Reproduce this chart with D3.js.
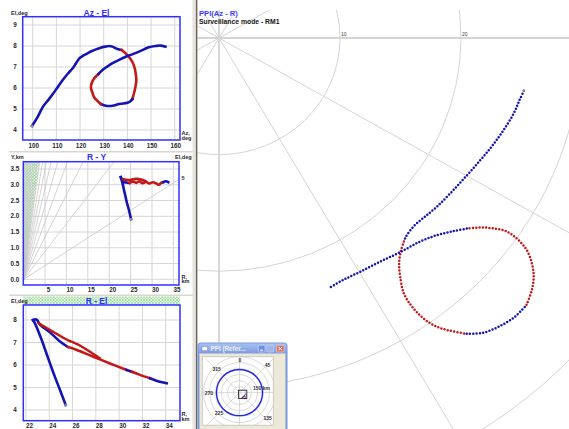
<!DOCTYPE html>
<html><head><meta charset="utf-8">
<script src="https://cdn.jsdelivr.net/npm/d3@7"></script>
<style>
html,body{margin:0;padding:0;background:#fff;}
svg{display:block;font-family:"Liberation Sans",Arial,sans-serif;}
</style></head><body>
<svg id="chart" width="569" height="429"></svg>
<script>
// ---------- Axis ticks ----------
const azTicks = [100, 110, 120, 130, 140, 150, 160];
const azElElTicks = [4, 5, 6, 7, 8, 9];
const ryRangeTicks = [5, 10, 15, 20, 25, 30, 35];
const ryHeightTicks = [0, 0.5, 1, 1.5, 2, 2.5, 3, 3.5];
const ryElevationFan = [5, 10, 15, 20, 25, 30, 35, 40, 45, 50, 55, 60, 65, 70, 75, 80, 85];
const relRangeTicks = [22, 24, 26, 28, 30, 32, 34];
const relElTicks = [4, 5, 6, 7, 8];
const ppiRingsKm = [10, 20, 30, 40, 50];
const ppiRingLabels = [10, 20];
const ppiSpokesDeg = [0, 30, 60, 90, 120, 150, 180, 210, 240, 270, 300, 330];
const insetRingsKm = [25, 50, 75, 100, 125, 150];
const insetSpokesDeg = [0, 45, 90, 135, 180, 225, 270, 315];
const insetBearingLabels = ["0", "45", "135", "225", "270", "315"];
const insetCoverageKm = 96;

// ---------- Track: Az - El  [azimuth deg, elevation deg] ----------
const azElClimb = [[99.7,4.19],[102,4.6],[104.3,5.1],[106.5,5.42],[108.5,5.71],[110.6,6.05],[112.7,6.38],[114.8,6.68],[116.9,6.94],[118.3,7.18],[119.7,7.41],[121.5,7.55],[123.2,7.65],[125,7.76],[126.7,7.84],[128.7,7.92],[130.6,7.97],[132.2,8.0],[133.7,7.97],[135.8,7.86],[137.6,7.81]];
const azElLoopFall = [[137.6,7.81],[140,7.57],[142.1,7.25],[143.1,6.95],[143.5,6.7],[143.8,6.38],[143.4,6.05],[142.8,5.75],[142.1,5.47]];
const azElLoopBottom = [[142.1,5.47],[141.2,5.36],[140,5.3],[138.2,5.26],[136.5,5.24],[134.3,5.17],[132.3,5.14],[130.5,5.17],[128.8,5.24]];
const azElLoopRise = [[128.8,5.24],[127.2,5.4],[126,5.55],[125.3,5.75],[124.6,6.03],[125,6.25],[126,6.46],[127.8,6.67]];
const azElExit = [[127.8,6.67],[129.5,6.86],[131.5,7.02],[133.7,7.18],[136.5,7.34],[139.3,7.49],[142,7.6],[144.9,7.73],[147,7.84],[149.1,7.94],[151.9,8.0],[154,8.02],[156.1,7.97]];

// ---------- Track: R - Y  [range km, height km] ----------
const ryClimb = [[25.1,1.91],[24.6,2.2],[24.1,2.45],[23.6,2.75],[23.1,3.05],[22.7,3.24]];
const ryLevelBlue = [[22.7,3.24],[22.9,3.19],[23.3,3.1],[24.0,3.07],[24.8,3.06]];
const ryLevelRed = [[24.8,3.06],[25.5,3.1],[26.3,3.06],[27.0,3.11],[27.8,3.05],[28.6,3.09],[29.4,3.04],[30.2,3.08],[31.0,3.04],[31.6,3.0],[32.2,3.07],[32.6,3.08]];
const ryLevelRedUpper = [[23.3,3.17],[24.5,3.15],[25.5,3.17],[26.5,3.19],[27.4,3.17],[28.4,3.12]];
const ryLevelTail = [[32.6,3.08],[33.2,3.11],[33.8,3.08]];

// ---------- Track: R - El  [range km, elevation deg] ----------
const relClimb = [[25.41,4.22],[24.92,4.89],[24.5,5.45],[24.06,6.07],[23.7,6.6],[23.35,7.11],[22.77,7.85],[22.6,8.0]];
const relTurn = [[22.6,8.0],[22.9,8.02],[23.2,7.8],[24.06,7.45],[24.92,7.04],[25.6,6.8]];
const relRedA = [[25.6,6.8],[26.36,6.67],[27.78,6.37],[29.22,6.07],[30.65,5.78]];
const relBlueA = [[30.65,5.78],[31.1,5.7]];
const relRedB = [[31.1,5.7],[31.79,5.56],[32.65,5.41]];
const relTail = [[32.65,5.41],[33.4,5.27],[34.09,5.19]];
const relRedUpper = [[23.1,7.85],[24.35,7.47],[25.5,7.13],[26.5,6.9],[27.4,6.62],[28.4,6.28]];

// ---------- Track: PPI  [azimuth deg, range km] ----------
const ppiApproach = [[100.2,25.6],[102.1,25.4],[104.9,25.2],[108.6,24.8],[112.3,24.4],[115.9,24.0],[120.3,23.6],[124.9,23.3],[128.8,23.1],[132.0,22.9],[135.2,22.8],[137.8,23.0],[138.8,23.2]];
const ppiLoopNear = [[138.8,23.2],[140.7,23.7],[142.4,24.4],[143.8,25.35],[145.1,26.7],[145.3,28.0],[144.9,29.4],[144.0,30.6],[142.8,31.5],[141.1,32.6]];
const ppiLoopBottom = [[141.1,32.6],[139.2,33.4],[136.8,33.9],[134.3,34.2],[132.0,34.2]];
const ppiLoopFar = [[132.0,34.2],[129.9,33.7],[128.2,33.1],[126.8,32.3],[125.6,31.3],[125.0,30.2],[124.9,29.0],[125.8,27.9],[127.0,27.0],[128.6,26.2]];
const ppiExit = [[128.6,26.2],[130.5,25.5],[133.2,24.7],[136.4,24.1],[140.8,23.7],[145.3,23.35],[149.8,23.2],[153.7,23.15],[157.2,23.3]];

// ---------- Styling ----------
const trackBlue = "#1414b4", trackRed = "#c41818", headGray = "#8a8a8a";
const frameBlue = "#2f2fff", gridGray = "#d6d6d6", labelInk = "#2a2a2a", titleBlue = "#2e2eff";

const svg = d3.select("#chart");
const defs = svg.append("defs");

// light green cross-hatch
const hatch = defs.append("pattern").attr("id", "hatch").attr("width", 3).attr("height", 3)
  .attr("patternUnits", "userSpaceOnUse");
hatch.append("rect").attr("width", 3).attr("height", 3).attr("fill", "#e8f9e8");
hatch.append("path").attr("d", "M0,0L3,3M3,0L0,3").attr("stroke", "#92dd92").attr("stroke-width", 0.7);

svg.append("rect").attr("width", 569).attr("height", 429).attr("fill", "#fff");

const smooth = d3.curveCatmullRom.alpha(0.5);

function drawPanel(p) {
  const g = svg.append("g");
  const { x, y, f } = p;
  defs.append("clipPath").attr("id", "clip-" + p.id).append("rect")
    .attr("x", f.x0).attr("y", f.y0).attr("width", f.x1 - f.x0).attr("height", f.y1 - f.y0);
  const inner = g.append("g").attr("clip-path", `url(#clip-${p.id})`);
  if (p.under) p.under(inner);
  inner.selectAll("line.gx").data(p.xTicks).join("line").attr("class", "gx")
    .attr("x1", d => x(d)).attr("x2", d => x(d)).attr("y1", f.y0).attr("y2", f.y1)
    .attr("stroke", gridGray).attr("stroke-width", 1);
  inner.selectAll("line.gy").data(p.yTicks).join("line").attr("class", "gy")
    .attr("y1", d => y(d)).attr("y2", d => y(d)).attr("x1", f.x0).attr("x2", f.x1)
    .attr("stroke", gridGray).attr("stroke-width", 1);
  if (p.over) p.over(inner);
  const line = d3.line().x(d => x(d[0])).y(d => y(d[1])).curve(smooth);
  p.runs.forEach(([pts, color, dash]) => {
    inner.append("path").datum(pts).attr("d", line).attr("fill", "none")
      .attr("stroke", color).attr("stroke-width", dash ? 2.4 : 2.6)
      .attr("stroke-linecap", "square").attr("stroke-linejoin", "round")
      .attr("stroke-dasharray", dash || null);
  });
  const head = p.runs[0][0][0];
  inner.append("rect").attr("x", x(head[0]) - 1.2).attr("y", y(head[1]) - 1.2)
    .attr("width", 2.4).attr("height", 2.4).attr("fill", headGray);
  g.append("rect").attr("x", f.x0).attr("y", f.y0).attr("width", f.x1 - f.x0).attr("height", f.y1 - f.y0)
    .attr("fill", "none").attr("stroke", frameBlue).attr("stroke-width", 1.5);
  g.selectAll("text.tx").data(p.xTicks).join("text").attr("class", "tx")
    .attr("x", d => x(d) + p.xLabelDx).attr("y", p.xLabelY).attr("text-anchor", "middle")
    .attr("font-size", 6.3).attr("font-weight", "bold").attr("fill", labelInk).text(d => d);
  g.selectAll("text.ty").data(p.yTicks).join("text").attr("class", "ty")
    .attr("x", 15).attr("y", d => y(d) + 2.2).attr("text-anchor", "middle")
    .attr("font-size", 6.3).attr("font-weight", "bold").attr("fill", labelInk).text(p.yFormat);
  g.append("text").attr("x", 96.5).attr("y", p.titleY).attr("text-anchor", "middle")
    .attr("font-size", 8.5).attr("font-weight", "bold").attr("fill", titleBlue).text(p.title);
  p.notes.forEach(([tx, ty, s, anchor]) => {
    g.append("text").attr("x", tx).attr("y", ty).attr("text-anchor", anchor || "start")
      .attr("font-size", 5.6).attr("font-weight", "bold").attr("fill", labelInk).text(s);
  });
}

// ---------- Az - El ----------
const azX = d3.scaleLinear().domain([100, 160]).range([32.7, 174.7]);
const azElY = d3.scaleLinear().domain([4, 9]).range([130, 25]);
drawPanel({
  id: "azel", x: azX, y: azElY, f: { x0: 22.7, y0: 16.7, x1: 180, y1: 140 },
  xTicks: azTicks, yTicks: azElElTicks, yFormat: d => d, xLabelDx: 1, xLabelY: 147.6,
  title: "Az - El", titleY: 16,
  notes: [[11, 15, "El,deg"], [181.5, 134.5, "Az,"], [181.5, 139.5, "deg"]],
  runs: [[azElClimb, trackBlue], [azElLoopFall, trackRed], [azElLoopBottom, trackBlue],
         [azElLoopRise, trackRed], [azElExit, trackBlue]]
});

// ---------- R - Y ----------
const ryX = d3.scaleLinear().domain([0, 35]).range([23.6, 173.4]);
const ryY = d3.scaleLinear().domain([0, 3.5]).range([279.3, 169]);
const ryFrame = { x0: 23.3, y0: 161.7, x1: 179, y1: 285 };
drawPanel({
  id: "ry", x: ryX, y: ryY, f: ryFrame,
  xTicks: ryRangeTicks, yTicks: ryHeightTicks, yFormat: d3.format(".1f"), xLabelDx: 3.5, xLabelY: 292.3,
  title: "R - Y", titleY: 160,
  notes: [[11, 159, "Y,km"], [175, 159, "El,deg"], [181.5, 180.2, "5"], [181.5, 278.6, "R,"], [181.5, 283.4, "km"]],
  under: g => {
    const top = ryY.invert(ryFrame.y0);
    // region above 45 deg elevation
    g.append("path").attr("d", d3.line()([[ryX(0), ryY(0)], [ryX(0), ryY(top)], [ryX(top), ryY(top)]]))
      .attr("fill", "url(#hatch)");
  },
  over: g => {
    g.selectAll("line.fan").data(ryElevationFan).join("line").attr("class", "fan")
      .attr("x1", ryX(0)).attr("y1", ryY(0))
      .attr("x2", d => ryX(60)).attr("y2", d => ryY(60 * Math.tan(d * Math.PI / 180)))
      .attr("stroke", "#c8c8c8").attr("stroke-width", 0.8);
  },
  runs: [[ryClimb, trackBlue], [ryLevelBlue, trackBlue], [ryLevelRedUpper, trackRed], [ryLevelRed, trackRed], [ryLevelTail, trackBlue]]
});

// ---------- R - El ----------
const relX = d3.scaleLinear().domain([22, 34]).range([26, 165.7]);
const relY = d3.scaleLinear().domain([4, 8]).range([410, 320]);
svg.append("rect").attr("x", 23.3).attr("y", 296.5).attr("width", 156.7).attr("height", 8.5).attr("fill", "url(#hatch)");
drawPanel({
  id: "rel", x: relX, y: relY, f: { x0: 23.3, y0: 305, x1: 180, y1: 420.7 },
  xTicks: relRangeTicks, yTicks: relElTicks, yFormat: d => d, xLabelDx: 3.5, xLabelY: 427.8,
  title: "R - El", titleY: 304,
  notes: [[11, 302.6, "El,deg"], [181.5, 416.2, "R,"], [181.5, 421, "km"]],
  runs: [[relClimb, trackBlue], [relTurn, trackBlue], [relRedUpper, trackRed, "2 1.4"], [relRedA, trackRed],
         [relBlueA, trackBlue], [relRedB, trackRed], [relTail, trackBlue]]
});

// panel separators and splitter
[151.8, 295.3].forEach(yy => svg.append("line").attr("x1", 9).attr("x2", 193).attr("y1", yy).attr("y2", yy)
  .attr("stroke", "#d9d7d0").attr("stroke-width", 1.6));
svg.append("rect").attr("x", 192.5).attr("y", 0).attr("width", 3).attr("height", 429).attr("fill", "#e6e4dc");

// ---------- PPI (Az - R) ----------
const ppiX = d3.scaleLinear().domain([0, 20]).range([219, 461]);
const ppiY = d3.scaleLinear().domain([0, 20]).range([38, -195.2]);
const rad = a => a * Math.PI / 180;
const polar = ([az, r]) => [ppiX(r * Math.sin(rad(az))), ppiY(r * Math.cos(rad(az)))];

defs.append("clipPath").attr("id", "clip-ppi").append("rect")
  .attr("x", 197.5).attr("y", 10).attr("width", 372).attr("height", 419);
const ppi = svg.append("g").attr("clip-path", "url(#clip-ppi)");
ppi.selectAll("ellipse").data(ppiRingsKm).join("ellipse")
  .attr("cx", ppiX(0)).attr("cy", ppiY(0))
  .attr("rx", d => ppiX(d) - ppiX(0)).attr("ry", d => ppiY(0) - ppiY(d))
  .attr("fill", "none").attr("stroke", "#d4d4d4").attr("stroke-width", 1);
ppi.selectAll("line.spoke").data(ppiSpokesDeg).join("line").attr("class", "spoke")
  .attr("x1", ppiX(0)).attr("y1", ppiY(0))
  .attr("x2", d => polar([d, 80])[0]).attr("y2", d => polar([d, 80])[1])
  .attr("stroke", "#d4d4d4").attr("stroke-width", d => d % 90 === 0 ? 1.8 : 1);
ppi.selectAll("text.ring").data(ppiRingLabels).join("text").attr("class", "ring")
  .attr("x", d => ppiX(d) + 1).attr("y", ppiY(0) - 2.5)
  .attr("font-size", 5).attr("fill", "#444").text(d => d);

const ppiLine = d3.line().x(d => polar(d)[0]).y(d => polar(d)[1]).curve(smooth);
[[ppiApproach, trackBlue], [ppiLoopNear, trackRed], [ppiLoopBottom, trackBlue],
 [ppiLoopFar, trackRed], [ppiExit, trackBlue]].forEach(([pts, color]) => {
  ppi.append("path").datum(pts).attr("d", ppiLine).attr("fill", "none")
    .attr("stroke", color).attr("stroke-width", 2.5).attr("stroke-linecap", "round")
    .attr("stroke-dasharray", "0 3.3");
});
const ppiHead = polar(ppiApproach[0]);
ppi.append("circle").attr("cx", ppiHead[0]).attr("cy", ppiHead[1]).attr("r", 1.3).attr("fill", headGray);

svg.append("line").attr("x1", 196.6).attr("x2", 196.6).attr("y1", 0).attr("y2", 429)
  .attr("stroke", "#6e675c").attr("stroke-width", 1.6);
svg.append("text").attr("x", 199).attr("y", 16.3).attr("font-size", 7.6).attr("font-weight", "bold")
  .attr("fill", "#3c3cff").text("PPI(Az - R)");
svg.append("text").attr("x", 199).attr("y", 24.4).attr("font-size", 6.8).attr("font-weight", "bold")
  .attr("fill", "#141414").text("Surveillance mode - RM1");

// ---------- Overview window ----------
const win = svg.append("g");
const winTitle = defs.append("linearGradient").attr("id", "wintitle").attr("x1", 0).attr("x2", 0).attr("y1", 0).attr("y2", 1);
winTitle.append("stop").attr("offset", 0).attr("stop-color", "#a8c0f0");
winTitle.append("stop").attr("offset", 1).attr("stop-color", "#7d99e2");
win.append("rect").attr("x", 198.5).attr("y", 343.5).attr("width", 88).attr("height", 87)
  .attr("rx", 2.5).attr("fill", "#ece9d8").attr("stroke", "#7d97dc").attr("stroke-width", 2);
win.append("rect").attr("x", 198.5).attr("y", 343.5).attr("width", 88).attr("height", 10)
  .attr("rx", 2.5).attr("fill", "url(#wintitle)");
win.append("rect").attr("x", 202).attr("y", 346.4).attr("width", 5.5).attr("height", 4.2)
  .attr("fill", "#fff").attr("stroke", "#6a7fc0").attr("stroke-width", 0.5);
win.append("text").attr("x", 210.5).attr("y", 351.3).attr("font-size", 6.3).attr("font-weight", "bold")
  .attr("fill", "#eef2fd").text("PPI (Refer...");
win.append("rect").attr("x", 258.3).attr("y", 345.2).attr("width", 6.8).attr("height", 6.8).attr("rx", 1)
  .attr("fill", "#6e8fe2").attr("stroke", "#eeeeff").attr("stroke-width", 0.5);
win.append("rect").attr("x", 260).attr("y", 349.7).attr("width", 3).attr("height", 1).attr("fill", "#fff");
win.append("rect").attr("x", 266.8).attr("y", 345.2).attr("width", 6.8).attr("height", 6.8).attr("rx", 1)
  .attr("fill", "#9fb4ea").attr("stroke", "#dde").attr("stroke-width", 0.5);
win.append("rect").attr("x", 276.6).attr("y", 345.2).attr("width", 7.4).attr("height", 6.8).attr("rx", 1)
  .attr("fill", "#d9735f").attr("stroke", "#fdd").attr("stroke-width", 0.5);
win.append("path").attr("d", "M278.4,346.9L282.2,350.3M282.2,346.9L278.4,350.3")
  .attr("stroke", "#fff").attr("stroke-width", 1);
win.append("rect").attr("x", 202.3).attr("y", 356.7).attr("width", 71).attr("height", 68.5)
  .attr("fill", "#fff").attr("stroke", "#c4c1b6").attr("stroke-width", 0.8);

defs.append("clipPath").attr("id", "clip-inset").append("rect")
  .attr("x", 202.3).attr("y", 356.7).attr("width", 71).attr("height", 68.5);
const ov = win.append("g").attr("clip-path", "url(#clip-inset)");
const ovR = d3.scaleLinear().domain([0, 150]).range([0, 36]);
const ovC = [239.5, 392.6];
const ovPolar = ([az, r]) => [ovC[0] + ovR(r) * Math.sin(rad(az)), ovC[1] - ovR(r) * Math.cos(rad(az))];
ov.selectAll("circle.r").data(insetRingsKm).join("circle").attr("class", "r")
  .attr("cx", ovC[0]).attr("cy", ovC[1]).attr("r", d => ovR(d))
  .attr("fill", "none").attr("stroke", "#cfcfcf").attr("stroke-width", 0.8);
ov.selectAll("line.s").data(insetSpokesDeg).join("line").attr("class", "s")
  .attr("x1", ovC[0]).attr("y1", ovC[1])
  .attr("x2", d => ovPolar([d, 200])[0]).attr("y2", d => ovPolar([d, 200])[1])
  .attr("stroke", "#cfcfcf").attr("stroke-width", 0.8);
ov.append("circle").attr("cx", ovC[0]).attr("cy", ovC[1]).attr("r", ovR(insetCoverageKm))
  .attr("fill", "none").attr("stroke", "#2424e6").attr("stroke-width", 1.4);
const ovLabelPos = { "0": [240, 361.6], "45": [267.6, 367], "135": [267.6, 419.6], "225": [219, 414.6], "270": [208.8, 395], "315": [216.6, 371] };
insetBearingLabels.forEach(s => {
  ov.append("text").attr("x", ovLabelPos[s][0]).attr("y", ovLabelPos[s][1]).attr("text-anchor", "middle")
    .attr("font-size", 5).attr("font-weight", "bold").attr("fill", "#333").text(s);
});
ov.append("text").attr("x", 253).attr("y", 390.3).attr("font-size", 5).attr("font-weight", "bold")
  .attr("fill", "#333").text("150 km");
ov.append("rect").attr("x", 238.6).attr("y", 390.2).attr("width", 8.2).attr("height", 8.2)
  .attr("fill", "none").attr("stroke", "#222").attr("stroke-width", 0.9);
const ovLine = d3.line().x(d => ovPolar(d)[0]).y(d => ovPolar(d)[1]);
[[ppiApproach, trackBlue], [ppiLoopNear, trackRed], [ppiLoopBottom, trackBlue],
 [ppiLoopFar, trackRed], [ppiExit, trackBlue]].forEach(([pts, color]) => {
  ov.append("path").datum(pts).attr("d", ovLine).attr("fill", "none")
    .attr("stroke", color).attr("stroke-width", 1);
});
</script></body></html>
